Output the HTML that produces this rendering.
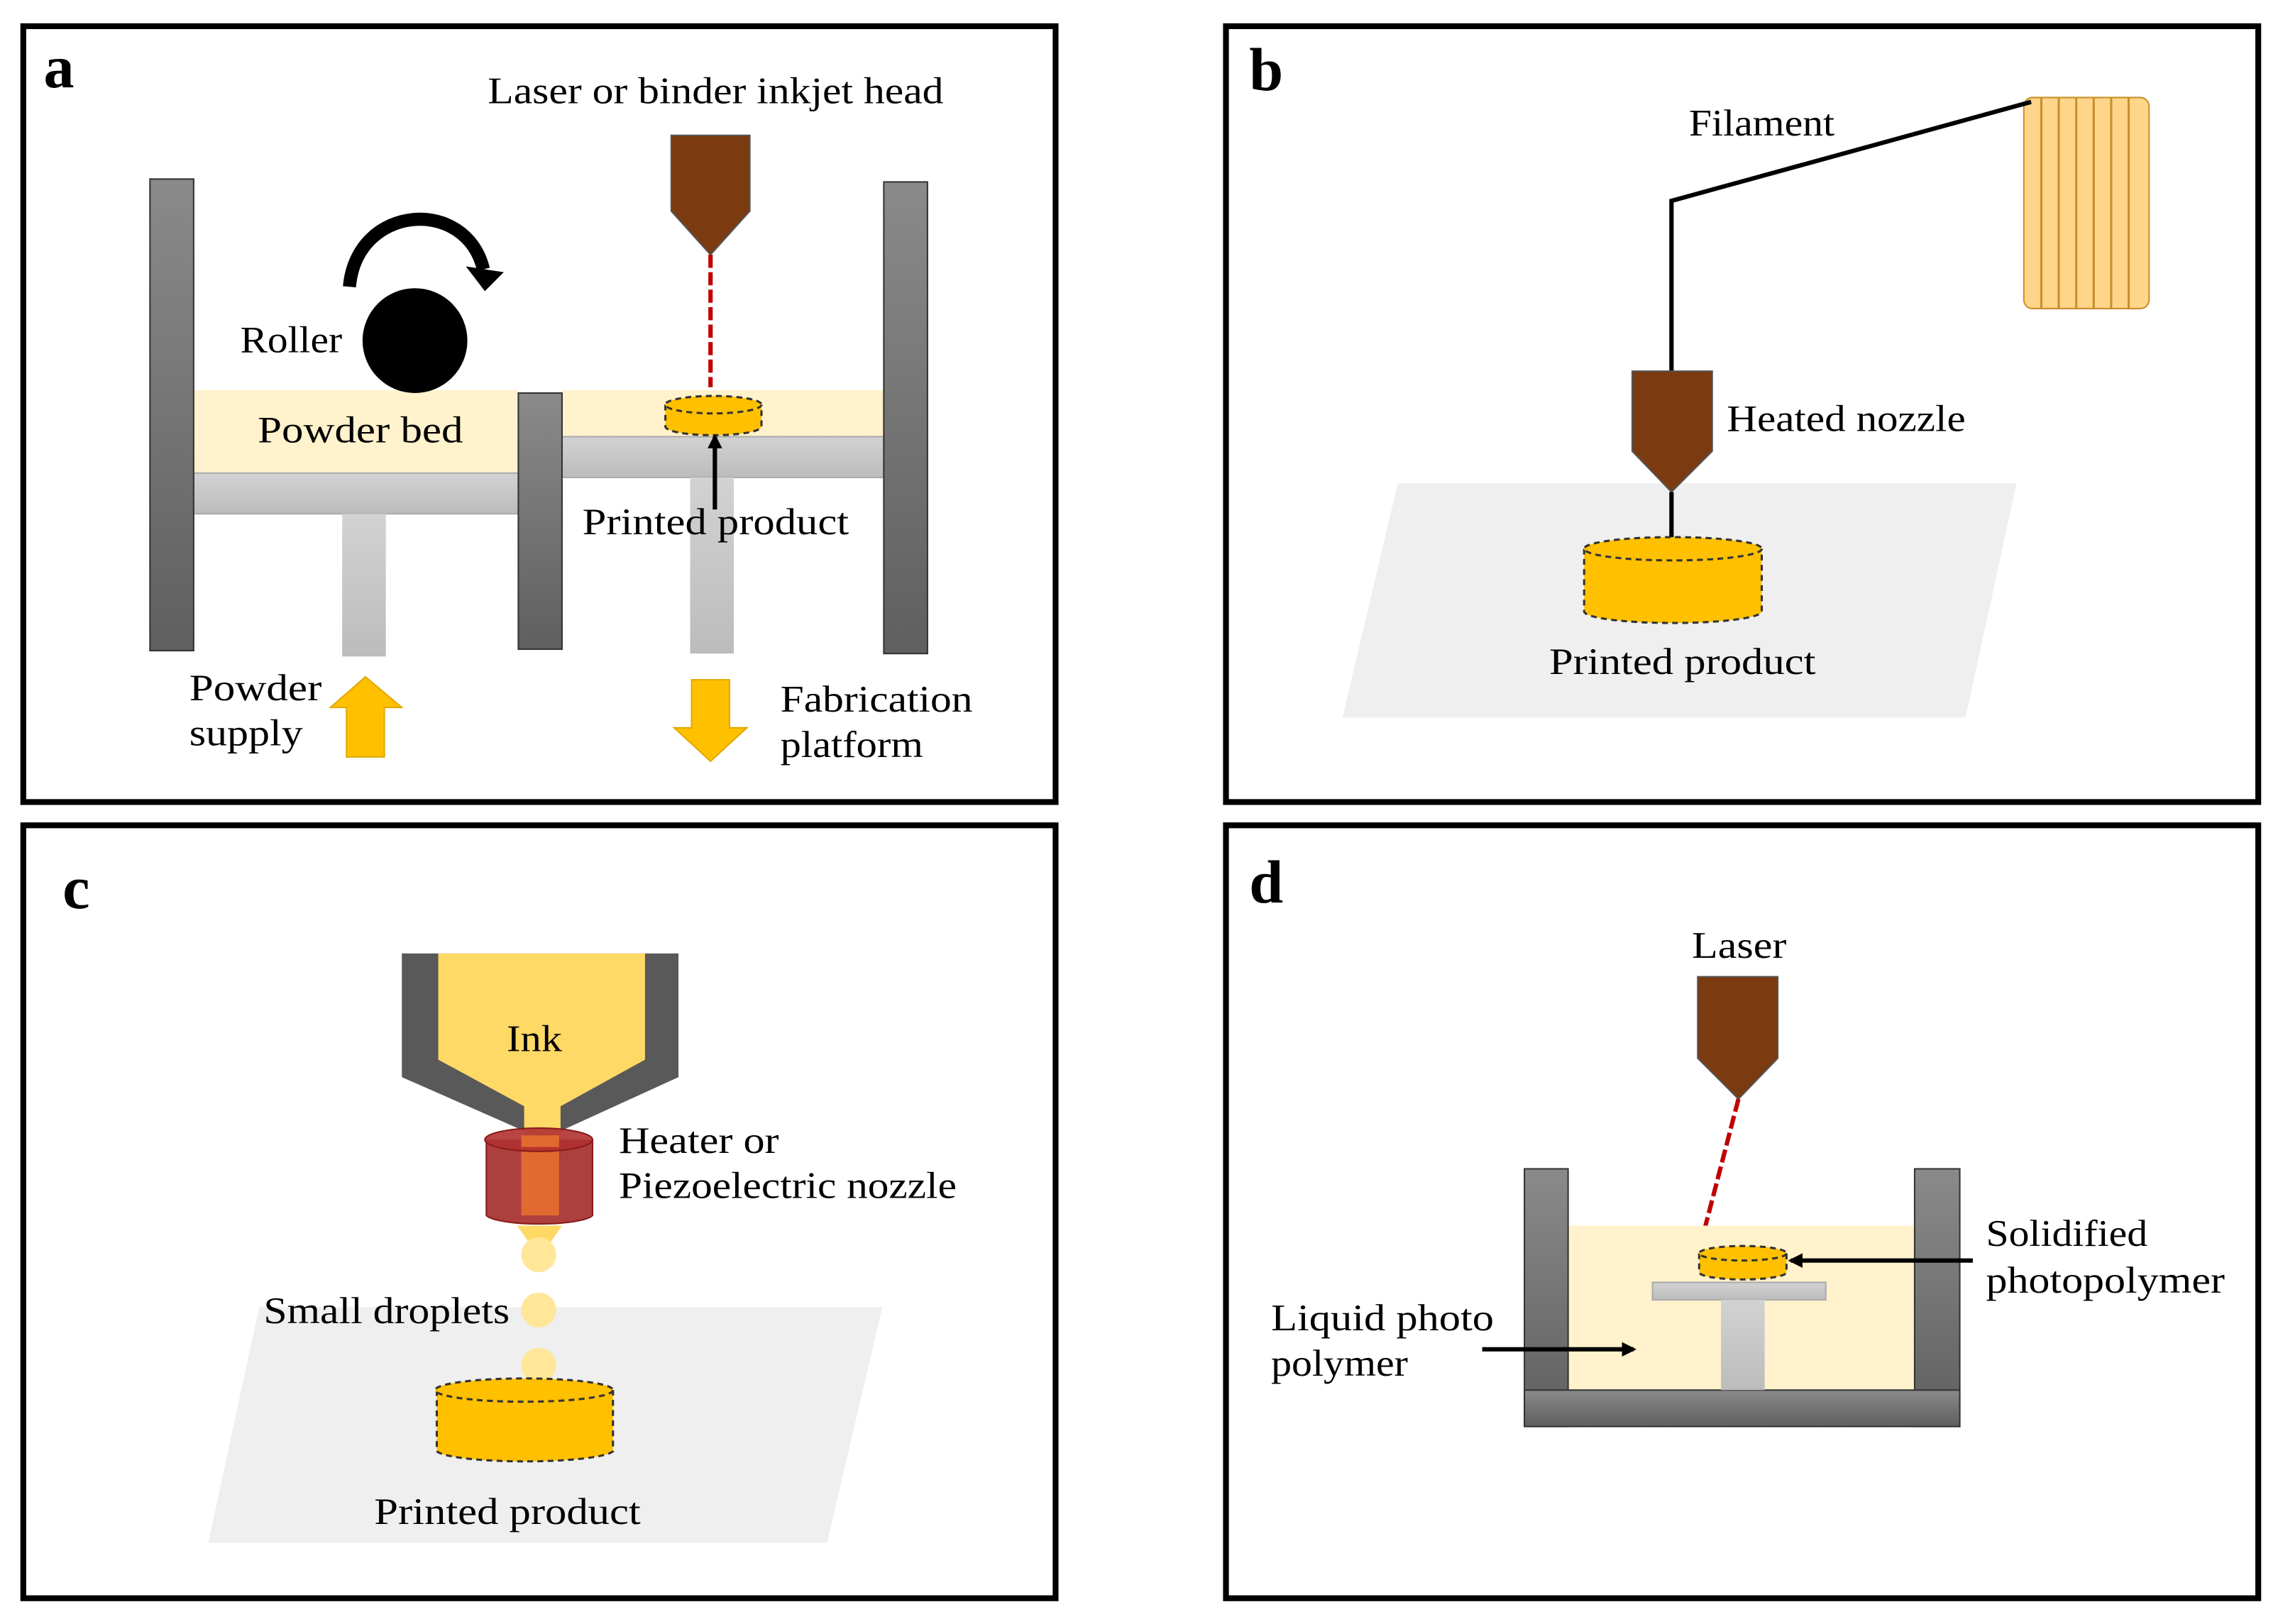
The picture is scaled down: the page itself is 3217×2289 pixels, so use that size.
<!DOCTYPE html>
<html><head><meta charset="utf-8"><style>
html,body{margin:0;padding:0;background:#fff;}
svg{display:block;}
text{font-family:"Liberation Serif",serif;fill:#000;}
</style></head><body>
<svg width="3217" height="2289" viewBox="0 0 1568 1115.7" preserveAspectRatio="none" xmlns="http://www.w3.org/2000/svg">
<defs>
<linearGradient id="wall" x1="0" y1="0" x2="0" y2="1"><stop offset="0" stop-color="#8a8a8a"/><stop offset="1" stop-color="#5f5f5f"/></linearGradient>
<linearGradient id="lg" x1="0" y1="0" x2="0" y2="1"><stop offset="0" stop-color="#d2d2d2"/><stop offset="1" stop-color="#bcbcbc"/></linearGradient>
<marker id="ah" markerWidth="10" markerHeight="10" refX="8" refY="5" orient="auto" markerUnits="userSpaceOnUse"><path d="M0,0 L10,5 L0,10 z" fill="#000"/></marker>
</defs>
<rect width="1568" height="1115.7" fill="#fff"/>

<!-- Panel a -->
<rect x="16" y="18" width="709" height="533" fill="none" stroke="#000" stroke-width="4"/>
<text x="30" y="60" font-size="42" font-weight="bold">a</text>
<text x="335" y="71" font-size="26" textLength="313" lengthAdjust="spacingAndGlyphs">Laser or binder inkjet  head</text>
<rect x="133" y="268" width="223" height="57" fill="#fff2cc"/>
<rect x="386" y="268" width="221" height="32" fill="#fff2cc"/>
<rect x="133" y="325" width="223" height="28" fill="url(#lg)" stroke="#aaa"/>
<rect x="235" y="353" width="30" height="98" fill="url(#lg)"/>
<rect x="386" y="300" width="221" height="28" fill="url(#lg)" stroke="#aaa"/>
<rect x="474" y="328" width="30" height="121" fill="url(#lg)"/>
<rect x="103" y="123" width="30" height="324" fill="url(#wall)" stroke="#333"/>
<rect x="356" y="270" width="30" height="176" fill="url(#wall)" stroke="#333"/>
<rect x="607" y="125" width="30" height="324" fill="url(#wall)" stroke="#333"/>
<ellipse cx="285" cy="234" rx="36" ry="36" fill="#000"/>
<path d="M240,197 C245,140 320,135 332,185" fill="none" stroke="#000" stroke-width="9"/>
<path d="M320,183 L346,187 L333,200 z" fill="#000"/>
<polygon points="461,93 515,93 515,145 488,175 461,145" fill="#7b3a10" stroke="#555"/>
<line x1="488" y1="175" x2="488" y2="266" stroke="#c00000" stroke-width="3" stroke-dasharray="9,3"/>
<path d="M457,278 L457,293 A33,6 0 0 0 523,293 L523,278" fill="#ffc000" stroke="#333" stroke-dasharray="4,3" stroke-width="1.5"/>
<ellipse cx="490" cy="278" rx="33" ry="6" fill="#ffc000" stroke="#333" stroke-dasharray="4,3" stroke-width="1.5"/>
<line x1="491" y1="350" x2="491" y2="300" stroke="#000" stroke-width="3" marker-end="url(#ah)"/>
<text x="165" y="242" font-size="26" textLength="70" lengthAdjust="spacingAndGlyphs">Roller</text>
<text x="177" y="304" font-size="26" textLength="141" lengthAdjust="spacingAndGlyphs">Powder bed</text>
<text x="400" y="367" font-size="26" textLength="183" lengthAdjust="spacingAndGlyphs">Printed product</text>
<text x="130" y="481" font-size="26" textLength="91" lengthAdjust="spacingAndGlyphs">Powder</text>
<text x="130" y="512" font-size="26" textLength="78" lengthAdjust="spacingAndGlyphs">supply</text>
<text x="536" y="489" font-size="26" textLength="132" lengthAdjust="spacingAndGlyphs">Fabrication</text>
<text x="536" y="520" font-size="26" textLength="98" lengthAdjust="spacingAndGlyphs">platform</text>
<polygon points="238,520 264,520 264,486 276,486 251,465 227,486 238,486" fill="#ffc000" stroke="#e0a800"/>
<polygon points="475,467 501,467 501,500 513,500 488,523 463,500 475,500" fill="#ffc000" stroke="#e0a800"/>

<!-- Panel b -->
<rect x="842" y="18" width="709" height="533" fill="none" stroke="#000" stroke-width="4"/>
<text x="858" y="62" font-size="42" font-weight="bold">b</text>
<polygon points="960,332 1385,332 1350,493 922,493" fill="#efefef"/>
<rect x="1390" y="67" width="86" height="145" rx="6" fill="#ffd58a" stroke="#c8902a"/>
<g stroke="#c8902a" stroke-width="1.5"><line x1="1402" y1="67" x2="1402" y2="212"/><line x1="1414" y1="67" x2="1414" y2="212"/><line x1="1426" y1="67" x2="1426" y2="212"/><line x1="1438" y1="67" x2="1438" y2="212"/><line x1="1450" y1="67" x2="1450" y2="212"/><line x1="1462" y1="67" x2="1462" y2="212"/></g>
<polyline points="1395,70 1148,138 1148,256" fill="none" stroke="#000" stroke-width="3"/>
<text x="1160" y="93" font-size="26" textLength="100" lengthAdjust="spacingAndGlyphs">Filament</text>
<polygon points="1121,255 1176,255 1176,310 1148,338 1121,310" fill="#7b3a10" stroke="#555"/>
<line x1="1148" y1="338" x2="1148" y2="372" stroke="#000" stroke-width="3"/>
<path d="M1088,377 L1088,420 A61,8 0 0 0 1210,420 L1210,377" fill="#ffc000" stroke="#333" stroke-dasharray="4,3" stroke-width="1.5"/>
<ellipse cx="1149" cy="377" rx="61" ry="8" fill="#ffc000" stroke="#333" stroke-dasharray="4,3" stroke-width="1.5"/>
<text x="1186" y="296" font-size="26" textLength="164" lengthAdjust="spacingAndGlyphs">Heated nozzle</text>
<text x="1064" y="463" font-size="26" textLength="183" lengthAdjust="spacingAndGlyphs">Printed product</text>

<!-- Panel c -->
<rect x="16" y="567" width="709" height="531" fill="none" stroke="#000" stroke-width="4"/>
<text x="43" y="624" font-size="42" font-weight="bold">c</text>
<polygon points="178,898 606,898 568,1060 143,1060" fill="#efefef"/>
<polygon points="276,655 466,655 466,740 385,777 385,795 360,795 360,777 276,740" fill="#595959"/>
<polygon points="301,655 443,655 443,728 385,760 385,800 360,800 360,760 301,728" fill="#ffd966"/>
<path d="M334,783 L334,835 A37,7 0 0 0 407,835 L407,783" fill="#a52a2a" fill-opacity="0.9" stroke="#8b1a1a"/>
<rect x="358" y="783" width="26" height="52" fill="#e06a30"/>
<ellipse cx="370" cy="783" rx="37" ry="8" fill="#b03030" fill-opacity="0.9" stroke="#8b1a1a"/>
<rect x="358" y="780" width="26" height="8" fill="#e06a30"/>
<polygon points="355,842 386,842 371,864" fill="#ffd966"/>
<circle cx="370" cy="862" r="12" fill="#ffe699"/>
<circle cx="370" cy="900" r="12" fill="#ffe699"/>
<circle cx="370" cy="938" r="12" fill="#ffe699"/>
<path d="M300,955 L300,997 A61,8 0 0 0 421,997 L421,955" fill="#ffc000" stroke="#333" stroke-dasharray="4,3" stroke-width="1.5"/>
<ellipse cx="360" cy="955" rx="61" ry="8" fill="#ffc000" stroke="#333" stroke-dasharray="4,3" stroke-width="1.5"/>
<text x="348" y="722" font-size="26" textLength="38" lengthAdjust="spacingAndGlyphs">Ink</text>
<text x="425" y="792" font-size="26" textLength="110" lengthAdjust="spacingAndGlyphs">Heater or</text>
<text x="425" y="823" font-size="26" textLength="232" lengthAdjust="spacingAndGlyphs">Piezoelectric nozzle</text>
<text x="181" y="909" font-size="26" textLength="169" lengthAdjust="spacingAndGlyphs">Small droplets</text>
<text x="257" y="1047" font-size="26" textLength="183" lengthAdjust="spacingAndGlyphs">Printed product</text>

<!-- Panel d -->
<rect x="842" y="567" width="709" height="531" fill="none" stroke="#000" stroke-width="4"/>
<text x="858" y="620" font-size="42" font-weight="bold">d</text>
<text x="1162" y="658" font-size="26" textLength="65" lengthAdjust="spacingAndGlyphs">Laser</text>
<polygon points="1166,671 1221,671 1221,727 1194,755 1166,727" fill="#7b3a10" stroke="#555"/>
<line x1="1194" y1="755" x2="1168" y2="855" stroke="#c00000" stroke-width="3" stroke-dasharray="9,3"/>
<rect x="1077" y="842" width="238" height="113" fill="#fff2cc"/>
<rect x="1047" y="803" width="30" height="177" fill="url(#wall)" stroke="#333"/>
<rect x="1315" y="803" width="31" height="177" fill="url(#wall)" stroke="#333"/>
<rect x="1047" y="955" width="299" height="25" fill="url(#wall)" stroke="#333"/>
<rect x="1135" y="881" width="119" height="12" fill="url(#lg)" stroke="#aaa"/>
<rect x="1182" y="893" width="30" height="62" fill="url(#lg)"/>
<path d="M1167,861 L1167,874 A30,5 0 0 0 1227,874 L1227,861" fill="#ffc000" stroke="#333" stroke-dasharray="4,3" stroke-width="1.5"/>
<ellipse cx="1197" cy="861" rx="30" ry="5" fill="#ffc000" stroke="#333" stroke-dasharray="4,3" stroke-width="1.5"/>
<line x1="1355" y1="866" x2="1230" y2="866" stroke="#000" stroke-width="3" marker-end="url(#ah)"/>
<line x1="1018" y1="927" x2="1122" y2="927" stroke="#000" stroke-width="3" marker-end="url(#ah)"/>
<text x="1364" y="856" font-size="26" textLength="111" lengthAdjust="spacingAndGlyphs">Solidified</text>
<text x="1364" y="888" font-size="26" textLength="164" lengthAdjust="spacingAndGlyphs">photopolymer</text>
<text x="873" y="914" font-size="26" textLength="153" lengthAdjust="spacingAndGlyphs">Liquid photo</text>
<text x="873" y="945" font-size="26" textLength="94" lengthAdjust="spacingAndGlyphs">polymer</text>
</svg>
</body></html>
